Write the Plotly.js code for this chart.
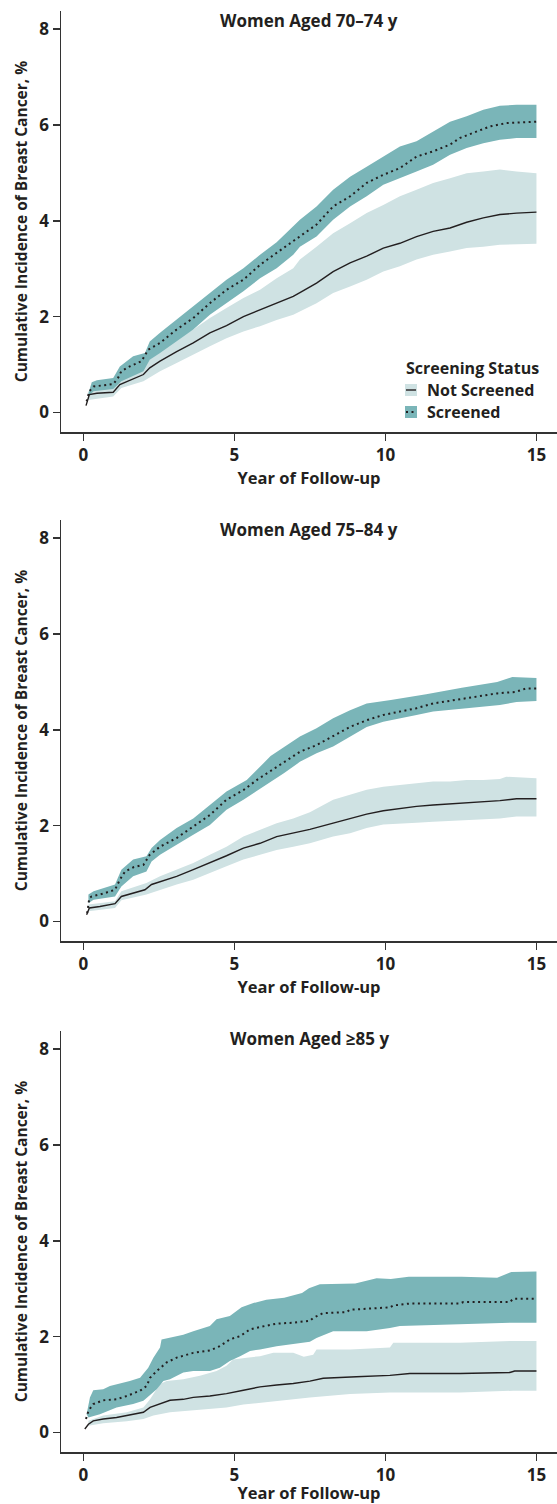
<!DOCTYPE html>
<html>
<head>
<meta charset="utf-8">
<script src="https://cdn.plot.ly/plotly-3.0.1.min.js"></script>
<style>html,body{margin:0;padding:0;background:#fff;}#chart{width:557px;height:1504px;}</style>
</head>
<body>
<div id="chart"></div>
<script>
// ---------- Data ----------
const panelTitles = ["Women Aged 70\u201374 y", "Women Aged 75\u201384 y", "Women Aged \u226585 y"];
const xTickVals = [0, 5, 10, 15];
const yTickVals = [0, 2, 4, 6, 8];
const legendTitle = "Screening Status";
const seriesNames = ["Not Screened", "Screened"];

// Panel 1: 70-74 y
const p1NsX = [0.09,0.20,0.45,0.99,1.21,1.99,2.20,2.54,3.09,3.64,4.19,4.74,5.30,5.85,6.40,6.95,7.17,7.72,8.27,8.83,9.38,9.93,10.48,11.03,11.58,12.14,12.69,13.24,13.79,14.34,15.0];
const p1NsY = [0.14,0.37,0.40,0.42,0.58,0.79,0.93,1.07,1.27,1.45,1.66,1.81,2.00,2.14,2.28,2.42,2.50,2.70,2.94,3.12,3.26,3.43,3.53,3.67,3.78,3.85,3.97,4.06,4.13,4.16,4.18];
const p1NsHiX = [0.17,0.99,1.21,1.99,2.54,3.09,3.64,4.19,4.74,5.30,5.85,6.40,6.95,7.17,7.72,8.27,8.83,9.38,9.93,10.48,11.03,11.58,12.14,12.69,13.24,13.79,14.34,15.0];
const p1NsHi  = [0.44,0.53,0.72,1.00,1.27,1.52,1.73,1.97,2.18,2.39,2.56,2.80,3.01,3.19,3.46,3.74,3.95,4.16,4.33,4.51,4.65,4.79,4.89,4.99,5.03,5.07,5.03,4.99];
const p1NsLoX = [0.17,0.99,1.26,1.99,2.54,3.09,3.64,4.19,4.74,5.30,5.85,6.40,6.95,7.17,7.72,8.27,8.83,9.38,9.93,10.48,11.03,11.58,12.14,12.69,13.24,13.79,15.0];
const p1NsLo  = [0.26,0.33,0.51,0.65,0.86,1.03,1.20,1.38,1.55,1.69,1.80,1.93,2.04,2.11,2.28,2.49,2.63,2.77,2.94,3.05,3.19,3.29,3.36,3.43,3.46,3.50,3.52];
const p1SX = [0.11,0.20,0.34,0.66,0.99,1.15,1.26,1.54,1.93,2.15,2.54,3.09,3.64,4.19,4.74,5.30,5.85,6.40,7.17,7.72,8.27,8.83,9.38,9.93,10.48,11.03,11.58,12.14,12.47,12.91,13.46,14.01,15.0];
const p1SY = [0.23,0.44,0.54,0.56,0.59,0.72,0.86,0.96,1.07,1.31,1.45,1.73,1.97,2.28,2.56,2.77,3.08,3.33,3.67,3.92,4.30,4.51,4.79,4.96,5.10,5.34,5.45,5.59,5.73,5.83,5.97,6.04,6.07];
const p1SHiX = [0.17,0.28,0.45,0.99,1.21,1.65,2.04,2.20,2.54,3.09,3.64,4.19,4.74,5.30,5.85,6.40,7.17,7.72,8.27,8.83,9.38,9.93,10.48,11.03,11.58,12.14,12.69,13.24,13.79,14.34,15.0];
const p1SHi  = [0.40,0.63,0.67,0.72,0.96,1.17,1.24,1.48,1.66,1.93,2.21,2.49,2.77,3.01,3.29,3.55,4.02,4.30,4.65,4.92,5.13,5.34,5.55,5.66,5.86,6.07,6.18,6.32,6.40,6.42,6.42];
const p1SLoX = [0.17,0.34,0.99,1.26,1.99,2.20,2.54,3.09,3.64,4.19,4.74,5.30,5.85,6.40,6.95,7.17,7.72,8.27,8.83,9.38,9.93,10.48,11.03,11.58,12.14,12.69,13.24,13.79,14.34,15.0];
const p1SLo  = [0.33,0.44,0.49,0.65,0.86,1.10,1.24,1.48,1.73,2.04,2.28,2.53,2.80,3.01,3.29,3.46,3.67,4.02,4.30,4.51,4.75,4.89,5.03,5.17,5.38,5.52,5.62,5.69,5.73,5.73];

// Panel 2: 75-84 y
const p2NsX = [0.11,0.20,0.55,1.05,1.26,1.65,2.04,2.26,2.54,3.09,3.64,4.19,4.74,5.30,5.85,6.40,6.95,7.50,8.27,8.83,9.38,9.93,10.48,11.03,11.58,12.14,12.69,13.24,13.79,14.34,15.0];
const p2NsY = [0.14,0.28,0.31,0.37,0.52,0.59,0.66,0.77,0.83,0.94,1.08,1.22,1.37,1.53,1.63,1.77,1.84,1.92,2.05,2.15,2.24,2.31,2.36,2.40,2.43,2.45,2.48,2.50,2.52,2.56,2.56];
const p2NsHiX = [0.17,1.05,1.26,2.09,2.54,3.09,3.64,4.19,4.74,5.30,5.85,6.40,6.95,7.50,8.27,8.83,9.38,9.93,10.48,11.03,11.58,12.14,12.69,13.24,13.79,14.00,15.0];
const p2NsHi  = [0.35,0.42,0.63,0.80,0.94,1.08,1.22,1.39,1.56,1.77,1.91,2.05,2.15,2.28,2.54,2.64,2.75,2.81,2.85,2.88,2.92,2.92,2.95,2.95,2.97,3.02,2.99];
const p2NsLoX = [0.17,1.05,1.26,2.09,2.54,3.09,3.64,4.19,4.74,5.30,5.85,6.40,6.95,7.50,8.27,8.83,9.38,9.93,10.48,11.03,11.58,12.14,12.69,13.79,14.34,15.0];
const p2NsLo  = [0.21,0.28,0.44,0.56,0.66,0.77,0.87,1.01,1.15,1.29,1.39,1.49,1.56,1.63,1.77,1.84,1.95,2.02,2.04,2.06,2.08,2.11,2.12,2.15,2.19,2.19];
const p2SX = [0.13,0.20,0.28,0.66,1.05,1.21,1.38,1.66,1.99,2.20,2.54,3.09,3.64,4.19,4.74,5.30,5.74,6.65,7.17,7.72,8.27,8.83,9.38,9.93,10.48,11.03,11.58,12.53,13.70,14.30,14.65,15.0];
const p2SY = [0.17,0.49,0.52,0.58,0.66,0.87,1.04,1.13,1.18,1.39,1.56,1.74,1.98,2.22,2.54,2.74,2.95,3.33,3.54,3.68,3.86,4.06,4.20,4.31,4.38,4.45,4.55,4.65,4.76,4.79,4.86,4.86];
const p2SHiX = [0.17,0.34,1.05,1.26,1.65,2.09,2.26,2.54,3.09,3.64,4.19,4.74,5.41,6.20,7.17,7.72,8.27,8.83,9.38,10.18,11.35,12.53,13.70,14.20,15.0];
const p2SHi  = [0.56,0.63,0.77,1.08,1.29,1.36,1.53,1.70,1.95,2.15,2.43,2.71,2.95,3.45,3.86,4.03,4.24,4.41,4.55,4.62,4.74,4.88,5.00,5.10,5.08];
const p2SLoX = [0.17,0.34,1.05,1.26,1.65,2.09,2.26,2.54,3.09,3.64,4.19,4.74,5.30,5.96,6.65,7.17,7.72,8.27,8.83,9.38,9.93,10.48,11.03,11.58,12.14,12.69,13.79,14.34,15.0];
const p2SLo  = [0.38,0.45,0.52,0.73,0.94,1.04,1.25,1.39,1.60,1.81,2.01,2.33,2.54,2.81,3.10,3.33,3.51,3.65,3.86,4.06,4.17,4.24,4.31,4.38,4.41,4.45,4.52,4.58,4.60];

// Panel 3: >=85 y
const p3NsX = [0.05,0.17,0.33,0.66,1.10,1.44,1.99,2.21,2.54,2.87,3.31,3.64,4.19,4.74,5.30,5.85,6.40,6.95,7.50,7.94,9.04,10.15,10.81,12.47,14.12,14.28,15.0];
const p3NsY = [0.07,0.17,0.24,0.28,0.31,0.35,0.42,0.52,0.59,0.67,0.69,0.73,0.76,0.81,0.88,0.95,0.99,1.02,1.07,1.13,1.16,1.19,1.23,1.23,1.25,1.28,1.28];
const p3NsHiX = [0.17,0.66,1.44,1.99,2.21,2.54,2.76,3.31,3.86,4.41,4.74,4.96,5.41,5.85,6.29,6.95,7.30,7.61,7.72,8.83,10.15,10.26,12.47,14.23,15.0];
const p3NsHi  = [0.24,0.35,0.42,0.52,0.69,1.01,1.07,1.11,1.18,1.28,1.39,1.52,1.56,1.59,1.66,1.66,1.58,1.62,1.73,1.73,1.77,1.87,1.87,1.91,1.91];
const p3NsLoX = [0.17,0.66,1.44,1.99,2.32,2.87,3.64,4.19,4.74,5.30,5.85,6.40,6.95,7.50,8.83,10.15,12.47,14.23,15.0];
const p3NsLo  = [0.14,0.19,0.23,0.28,0.35,0.42,0.45,0.49,0.52,0.58,0.62,0.66,0.69,0.73,0.80,0.83,0.83,0.87,0.87];
const p3SX = [0.09,0.17,0.33,0.66,1.10,1.44,1.88,2.10,2.21,2.43,2.76,3.09,3.64,4.19,4.52,4.85,5.19,5.52,5.85,6.40,6.95,7.50,7.61,7.94,8.71,8.83,10.15,10.26,10.81,12.47,12.58,14.12,14.23,15.0];
const p3SY = [0.28,0.45,0.59,0.67,0.69,0.76,0.87,0.97,1.14,1.28,1.46,1.56,1.66,1.71,1.80,1.94,2.01,2.15,2.20,2.27,2.29,2.33,2.39,2.49,2.51,2.56,2.61,2.65,2.69,2.69,2.72,2.72,2.79,2.79];
const p3SHiX = [0.11,0.22,0.33,0.66,0.88,1.21,1.54,1.88,2.15,2.32,2.54,2.59,2.87,3.31,3.64,4.19,4.41,4.85,5.24,5.63,6.06,6.65,7.24,7.47,7.83,9.00,9.71,10.18,10.77,12.53,13.70,14.17,15.0];
const p3SHi  = [0.38,0.73,0.88,0.90,0.97,1.02,1.07,1.14,1.35,1.56,1.77,1.94,1.98,2.04,2.11,2.22,2.36,2.43,2.61,2.70,2.77,2.81,2.91,3.01,3.09,3.11,3.22,3.20,3.25,3.25,3.23,3.35,3.36];
const p3SLoX = [0.17,0.55,1.10,1.65,1.99,2.10,2.43,2.65,2.87,3.31,3.64,4.19,4.52,4.85,5.19,5.52,5.85,6.40,6.95,7.50,7.72,8.27,9.38,10.15,10.48,12.47,14.23,15.0];
const p3SLo  = [0.31,0.38,0.52,0.59,0.66,0.73,0.90,1.07,1.11,1.25,1.28,1.28,1.35,1.49,1.59,1.70,1.73,1.80,1.84,1.89,1.97,2.11,2.11,2.18,2.22,2.25,2.29,2.29];

// ---------- Styling ----------
const FONT = "Open Sans, Lato, sans-serif";
const INK = "#231f20";
const NS_FILL = "#cfe2e3";
const S_FILL = "#7ab5b8";
const W = 557, H = 1504, ML = 61;
const DOT = "2px,3.5px";

function band(xLo, yLo, xHi, yHi, color, name, xa, ya) {
  return {
    x: xHi.concat(xLo.slice().reverse()),
    y: yHi.concat(yLo.slice().reverse()),
    type: "scatter", mode: "lines", fill: "toself", fillcolor: color,
    line: {width: 0, color: color}, hoverinfo: "skip", showlegend: false,
    name: name + " 95% CI", xaxis: xa, yaxis: ya
  };
}
function curve(x, y, dash, width, name, xa, ya) {
  return {x: x, y: y, type: "scatter", mode: "lines",
    line: {color: INK, width: width, dash: dash}, name: name,
    showlegend: false, xaxis: xa, yaxis: ya};
}

const panels = [
  {ns: [p1NsX, p1NsY, p1NsLoX, p1NsLo, p1NsHiX, p1NsHi], s: [p1SX, p1SY, p1SLoX, p1SLo, p1SHiX, p1SHi]},
  {ns: [p2NsX, p2NsY, p2NsLoX, p2NsLo, p2NsHiX, p2NsHi], s: [p2SX, p2SY, p2SLoX, p2SLo, p2SHiX, p2SHi]},
  {ns: [p3NsX, p3NsY, p3NsLoX, p3NsLo, p3NsHiX, p3NsHi], s: [p3SX, p3SY, p3SLoX, p3SLo, p3SHiX, p3SHi]}
];

const traces = [];
panels.forEach((p, i) => {
  const xa = i === 0 ? "x" : "x" + (i + 1);
  const ya = i === 0 ? "y" : "y" + (i + 1);
  traces.push(band(p.ns[2], p.ns[3], p.ns[4], p.ns[5], NS_FILL, seriesNames[0], xa, ya));
  traces.push(band(p.s[2], p.s[3], p.s[4], p.s[5], S_FILL, seriesNames[1], xa, ya));
  traces.push(curve(p.ns[0], p.ns[1], "solid", 1.4, seriesNames[0], xa, ya));
  traces.push(curve(p.s[0], p.s[1], DOT, 2, seriesNames[1], xa, ya));
});

// panel geometry in pixels (top, bottom of each plot area)
const panelPx = [[11, 432], [520, 941], [1031, 1452]];
const titlePy = [20, 529, 1038];
const fy = py => 1 - py / H;
const fx = px => (px - ML) / (W - ML);

const tickFont = {family: FONT, size: 17, color: INK, weight: "bold"};
const panelTitleFont = {family: FONT, size: 17, color: INK, weight: "bold"};
const xTitleFont = {family: FONT, size: 16.5, color: INK, weight: "bold"};
const yTitleFont = {family: FONT, size: 15.5, color: INK, weight: "bold"};
const legFont = {family: FONT, size: 16, color: INK, weight: "bold"};

const layout = {
  width: W, height: H,
  margin: {l: ML, r: 0, t: 0, b: 0},
  paper_bgcolor: "#fff", plot_bgcolor: "#fff",
  showlegend: false,
  annotations: [], shapes: []
};

panelPx.forEach((pp, i) => {
  const sx = i === 0 ? "xaxis" : "xaxis" + (i + 1);
  const sy = i === 0 ? "yaxis" : "yaxis" + (i + 1);
  const ya = i === 0 ? "y" : "y" + (i + 1);
  const xa = i === 0 ? "x" : "x" + (i + 1);
  layout[sx] = {
    domain: [0, 1], anchor: ya, range: [-0.738, 15.68],
    tickmode: "array", tickvals: xTickVals, ticktext: xTickVals.map(String),
    ticks: "outside", ticklen: 7, tickwidth: 1.5, tickcolor: "#333",
    showline: true, linecolor: "#333", linewidth: 1.5,
    showgrid: false, zeroline: false, automargin: false,
    tickfont: tickFont,
    title: {text: "Year of Follow-up", font: xTitleFont, standoff: 3}
  };
  layout[sy] = {
    domain: [fy(pp[1]), fy(pp[0])], anchor: xa, range: [-0.41, 8.38],
    tickmode: "array", tickvals: yTickVals, ticktext: yTickVals.map(String),
    ticks: "outside", ticklen: 7, tickwidth: 1.5, tickcolor: "#333",
    showline: true, linecolor: "#333", linewidth: 1.5,
    showgrid: false, zeroline: false, automargin: false,
    tickfont: tickFont,
    title: {text: "Cumulative Incidence of Breast Cancer, %", font: yTitleFont, standoff: 8}
  };
  layout.annotations.push({
    text: panelTitles[i], xref: "paper", yref: "paper", x: 0.5, y: fy(titlePy[i]),
    xanchor: "center", yanchor: "middle", showarrow: false, font: panelTitleFont
  });
});

// Legend (panel 1, lower right)
layout.annotations.push({text: legendTitle, xref: "paper", yref: "paper", x: fx(404), y: fy(368),
  xanchor: "left", yanchor: "middle", showarrow: false, font: legFont});
[[seriesNames[0], 390, NS_FILL, "solid"], [seriesNames[1], 412, S_FILL, DOT]].forEach(it => {
  layout.annotations.push({text: it[0], xref: "paper", yref: "paper", x: fx(425), y: fy(it[1]),
    xanchor: "left", yanchor: "middle", showarrow: false, font: legFont});
  layout.shapes.push({type: "rect", xref: "paper", yref: "paper", x0: fx(405), x1: fx(417),
    y0: fy(it[1] + 6), y1: fy(it[1] - 6), fillcolor: it[2], line: {width: 0}});
  layout.shapes.push({type: "line", xref: "paper", yref: "paper", x0: fx(406), x1: fx(416),
    y0: fy(it[1]), y1: fy(it[1]), line: {color: INK, width: it[3] === "solid" ? 1.4 : 2, dash: it[3]}});
});

Plotly.newPlot("chart", traces, layout, {displayModeBar: false, staticPlot: true});
</script>
</body>
</html>
